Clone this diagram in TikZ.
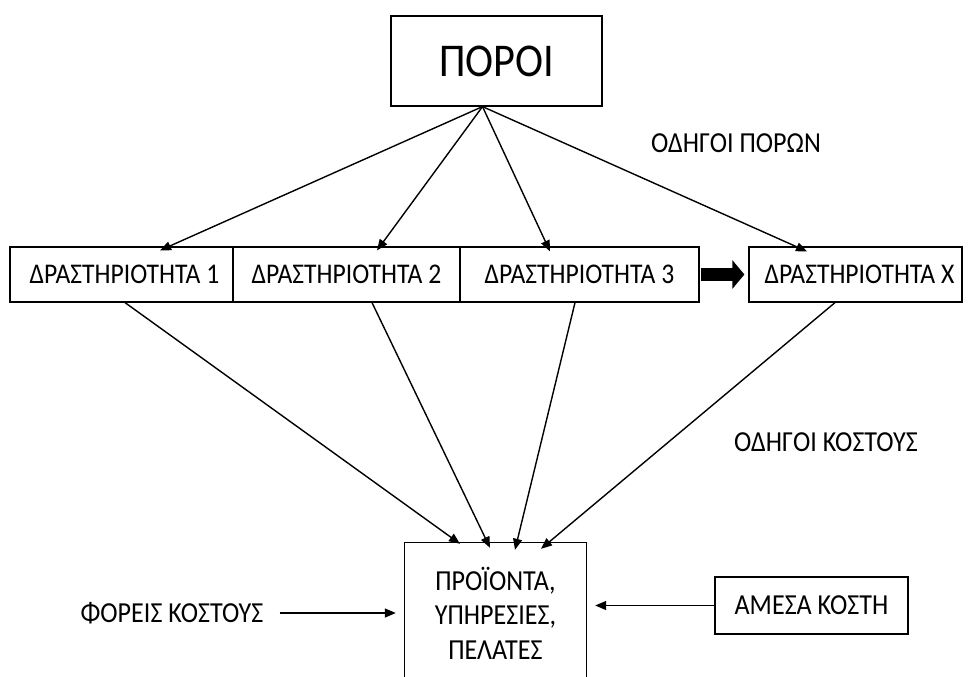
\documentclass[tikz,border=0pt]{standalone}
\usepackage{fontspec}
\setmainfont{Carlito}[FakeStretch=0.9]
\usetikzlibrary{arrows.meta}

\begin{document}
\begin{tikzpicture}[x=1pt,y=-1pt,
  box/.style={draw, line width=1.2pt, inner sep=0pt},
  actbox/.style={box, minimum height=55pt, font=\fontsize{28.5}{34}\selectfont},
  lbl/.style={font=\fontsize{29}{35}\selectfont},
  arr/.style={line width=1.4pt, -{Triangle[length=11pt,width=9pt]}}]

\useasboundingbox (0,0) rectangle (969,677);

% Resources
\node[box, minimum width=211pt, minimum height=90pt, font=\fontsize{47}{56}\selectfont] (res) at (496.5,61) {ΠΟΡΟΙ};

% Activities
\node[actbox, minimum width=223pt] (a1) at (121.5,274.5) {\hspace{6pt}ΔΡΑΣΤΗΡΙΟΤΗΤΑ 1};
\node[actbox, minimum width=227pt] (a2) at (346.5,274.5) {ΔΡΑΣΤΗΡΙΟΤΗΤΑ 2};
\node[actbox, minimum width=239pt] (a3) at (579.5,274.5) {ΔΡΑΣΤΗΡΙΟΤΗΤΑ 3\hspace{14pt}};
\node[actbox, minimum width=213pt] (ax) at (855.5,274.5) {\hspace{8pt}ΔΡΑΣΤΗΡΙΟΤΗΤΑ Χ};

% Cost objects
\node[minimum width=181pt, minimum height=140pt, align=center, inner sep=0pt,
  font=\fontsize{29}{35}\selectfont] (prod) at (495.5,613) {ΠΡΟΪΟΝΤΑ,\\[-1pt]ΥΠΗΡΕΣΙΕΣ,\\ΠΕΛΑΤΕΣ};
\draw[line width=1.2pt] (prod.south west) -- (prod.north west) -- (prod.north east) -- (prod.south east);

% Side nodes
\node[lbl, inner sep=0pt] (fc) at (172,613) {ΦΟΡΕΙΣ ΚΟΣΤΟΥΣ};
\node[box, minimum width=193pt, minimum height=57pt, lbl] (dc) at (811.5,605.5) {ΑΜΕΣΑ ΚΟΣΤΗ};

% Labels
\node[lbl] (pd) at (736,143) {ΟΔΗΓΟΙ ΠΟΡΩΝ};
\node[lbl] (cd) at (826,442) {ΟΔΗΓΟΙ ΚΟΣΤΟΥΣ};

% Resource drivers
\coordinate (hub) at ([xshift=-14pt]res.south);
\draw[arr] (hub) -- ([xshift=38.5pt,yshift=-4pt]a1.north);
\draw[arr] (hub) -- ([xshift=30.5pt,yshift=-4pt]a2.north);
\draw[arr] (hub) -- ([xshift=-29.5pt,yshift=-5pt]a3.north);
\draw[arr] (hub) -- ([xshift=-48.5pt,yshift=-5pt]ax.north);

% Activity link
\draw[line width=13pt, -{Triangle[length=12pt,width=28pt]}] ([xshift=1pt]a3.east) -- ([xshift=-4pt]ax.west);

% Cost drivers
\draw[arr] ([xshift=3.5pt]a1.south) -- ([xshift=-35.5pt,yshift=-1pt]prod.north);
\draw[arr] ([xshift=25.5pt]a2.south) -- ([xshift=-5.5pt,yshift=-5pt]prod.north);
\draw[arr] ([xshift=-4.5pt]a3.south) -- ([xshift=19.5pt,yshift=-7pt]prod.north);
\draw[arr] ([xshift=-20.5pt]ax.south) -- ([xshift=45.5pt,yshift=-6pt]prod.north);

% Cost objects inputs
\draw[arr, shorten <=16pt, shorten >=9pt] (fc.east) -- (fc.east -| prod.west);
\draw[arr, shorten >=9pt] (dc.west) -- (dc.west -| prod.east);

\end{tikzpicture}
\end{document}
